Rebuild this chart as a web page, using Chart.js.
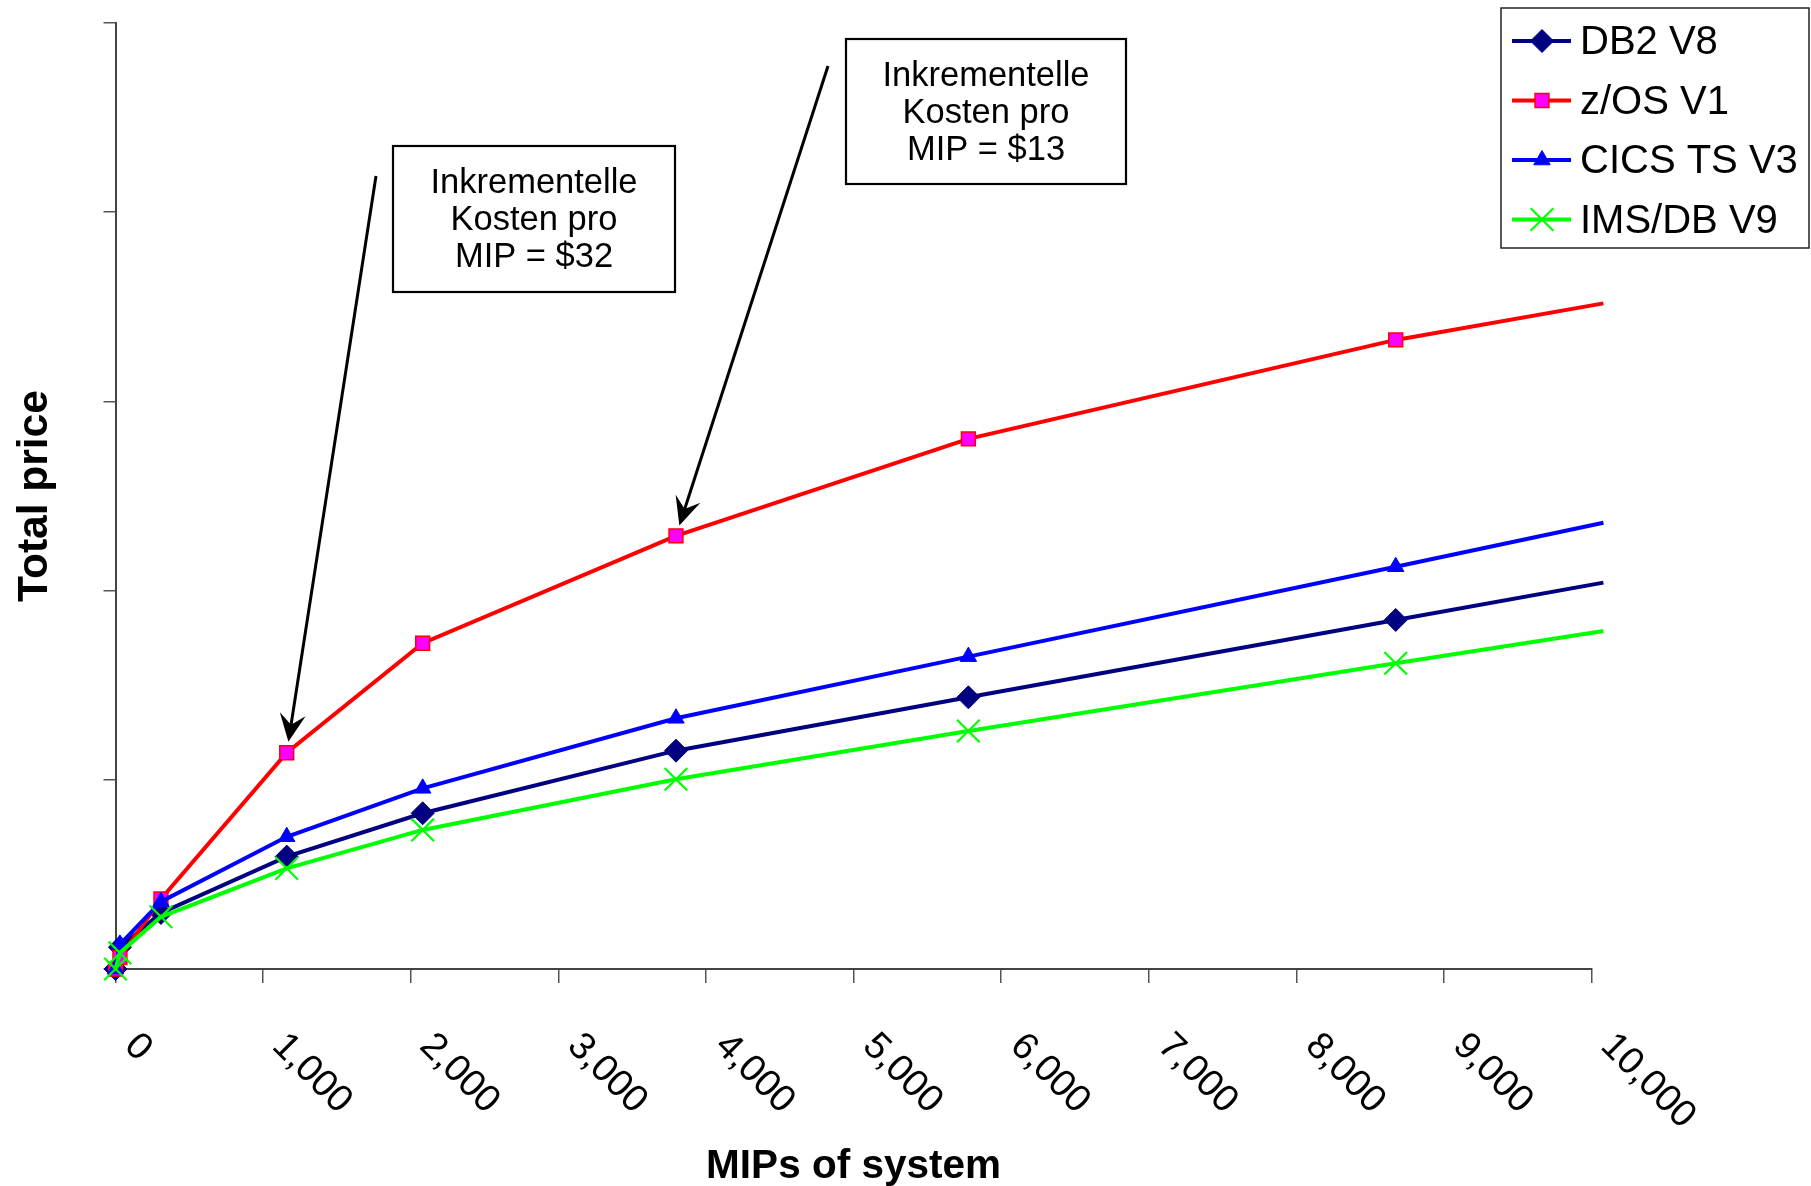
<!DOCTYPE html>
<html>
<head>
<meta charset="utf-8">
<title>Total price vs MIPs</title>
<script src="https://cdn.jsdelivr.net/npm/chart.js@4.4.1/dist/chart.umd.min.js"></script>
<style>
  body { margin: 0; background: #fff; }
  #wrap { width: 1811px; height: 1186px; }
</style>
</head>
<body>
<div id="wrap"><canvas id="myChart" width="1811" height="1186"></canvas></div>
<script>
const mips = [0, 30, 308, 1160, 2081, 3797, 5778, 8673, 10080]

const db2 = [0, 115, 296, 594, 823, 1154, 1436, 1845, 2042]
const zos = [0, 60, 370, 1143, 1722, 2289, 2802, 3325, 3518]
const cics = [0, 130, 356, 699, 955, 1325, 1651, 2126, 2359]
const ims = [0, 85, 276, 532, 735, 1003, 1258, 1616, 1786]

const seriesNames = ["DB2 V8", "z/OS V1", "CICS TS V3", "IMS/DB V9"]

const mipTicks = [0, 1000, 2000, 3000, 4000, 5000, 6000, 7000, 8000, 9000, 10000]
const priceTicks = [0, 1000, 2000, 3000, 4000, 5000]

const noteLow = ["Inkrementelle", "Kosten pro", "MIP = $32"]
const noteHigh = ["Inkrementelle", "Kosten pro", "MIP = $13"]

const FONT = '"Liberation Sans", Arial, Helvetica, sans-serif'

// last point sits just past the axis end, no marker there
const radii = (r) => mips.map((m, i) => (i === mips.length - 1 ? 0 : r))
const pts = (vals) => mips.map((m, i) => ({ x: m, y: vals[i] }))

const data = {
  datasets: [
    {
      label: seriesNames[0],
      data: pts(db2),
      borderColor: "#000080",
      backgroundColor: "#000080",
      borderWidth: 4,
      pointStyle: "rectRot",
      pointRadius: radii(11.5),
      pointBackgroundColor: "#000080",
      pointBorderColor: "#000080",
      pointBorderWidth: 1,
      order: 4,
    },
    {
      label: seriesNames[1],
      data: pts(zos),
      borderColor: "#ff0000",
      backgroundColor: "#ff00ff",
      borderWidth: 4,
      pointStyle: "rect",
      pointRadius: radii(9.8),
      pointBackgroundColor: "#ff00ff",
      pointBorderColor: "#ff0000",
      pointBorderWidth: 1.5,
      order: 3,
    },
    {
      label: seriesNames[2],
      data: pts(cics),
      borderColor: "#0000ff",
      backgroundColor: "#0000ff",
      borderWidth: 4,
      pointStyle: "triangle",
      pointRadius: radii(9.5),
      pointBackgroundColor: "#0000ff",
      pointBorderColor: "#0000ff",
      pointBorderWidth: 1,
      order: 2,
    },
    {
      label: seriesNames[3],
      data: pts(ims),
      borderColor: "#00ff00",
      backgroundColor: "#00ff00",
      borderWidth: 4,
      pointStyle: "crossRot",
      pointRadius: radii(16),
      pointBackgroundColor: "#00ff00",
      pointBorderColor: "#00ff00",
      pointBorderWidth: 2.2,
      order: 1,
    },
  ],
}

function drawNote(ctx, lines, box, from, target) {
  // arrow first, then the box on top
  const dx = target.x - from.x, dy = target.y - from.y
  const len = Math.hypot(dx, dy)
  const ux = dx / len, uy = dy / len
  const tip = { x: target.x - ux * 11, y: target.y - uy * 11 }
  const headLen = 28, headW = 13
  const baseX = tip.x - ux * headLen, baseY = tip.y - uy * headLen
  ctx.save()
  ctx.strokeStyle = "#000"
  ctx.fillStyle = "#000"
  ctx.lineWidth = 3
  ctx.beginPath()
  ctx.moveTo(from.x, from.y)
  ctx.lineTo(tip.x - ux * 10, tip.y - uy * 10)
  ctx.stroke()
  ctx.beginPath()
  ctx.moveTo(tip.x, tip.y)
  ctx.lineTo(baseX - uy * headW, baseY + ux * headW)
  ctx.lineTo(tip.x - ux * headLen * 0.62, tip.y - uy * headLen * 0.62)
  ctx.lineTo(baseX + uy * headW, baseY - ux * headW)
  ctx.closePath()
  ctx.fill()

  ctx.fillStyle = "#fff"
  ctx.fillRect(box.x, box.y, box.w, box.h)
  ctx.lineWidth = 2.2
  ctx.strokeRect(box.x, box.y, box.w, box.h)
  ctx.fillStyle = "#000"
  ctx.font = "34.5px " + FONT
  ctx.textAlign = "center"
  ctx.textBaseline = "middle"
  lines.forEach((t, i) => {
    ctx.fillText(t, box.x + box.w / 2, box.y + 37 + i * 37)
  })
  ctx.restore()
}

const overlay = {
  id: "overlay",
  afterDraw(chart) {
    const ctx = chart.ctx
    const xs = chart.scales.x
    const ys = chart.scales.y

    // x tick labels, turned 45 degrees clockwise
    ctx.save()
    ctx.fillStyle = "#000"
    ctx.font = "38px " + FONT
    ctx.textAlign = "left"
    ctx.textBaseline = "middle"
    xs.ticks.forEach((t) => {
      const px = xs.getPixelForValue(t.value)
      ctx.save()
      ctx.translate(px + 15, chart.chartArea.bottom + 71)
      ctx.rotate(Math.PI / 4)
      ctx.fillText(t.value.toLocaleString("en-US"), 0, 0)
      ctx.restore()
    })
    ctx.restore()

    // callouts pointing at the z/OS points
    const p1 = { x: xs.getPixelForValue(mips[3]), y: ys.getPixelForValue(zos[3]) }
    const p2 = { x: xs.getPixelForValue(mips[5]), y: ys.getPixelForValue(zos[5]) }
    drawNote(ctx, noteLow, { x: 393, y: 146, w: 282, h: 146 }, { x: 376, y: 176 }, p1)
    drawNote(ctx, noteHigh, { x: 846, y: 39, w: 280, h: 145 }, { x: 828, y: 66 }, p2)

    // legend box
    ctx.save()
    ctx.fillStyle = "#fff"
    ctx.fillRect(1501, 8, 308, 240)
    ctx.strokeStyle = "#222"
    ctx.lineWidth = 1.5
    ctx.strokeRect(1501, 8, 308, 240)
    const drawPoint = Chart.helpers && Chart.helpers.drawPoint
    chart.data.datasets.forEach((ds, i) => {
      const y = 41 + i * 59.5
      ctx.strokeStyle = ds.borderColor
      ctx.lineWidth = 4
      ctx.beginPath()
      ctx.moveTo(1512, y)
      ctx.lineTo(1571, y)
      ctx.stroke()
      if (drawPoint) {
        ctx.fillStyle = ds.pointBackgroundColor
        ctx.strokeStyle = ds.pointBorderColor
        ctx.lineWidth = ds.pointBorderWidth
        drawPoint(ctx, { pointStyle: ds.pointStyle, radius: ds.pointRadius[0], rotation: 0, borderWidth: ds.pointBorderWidth }, 1542, y)
      }
      ctx.fillStyle = "#000"
      ctx.font = "40px " + FONT
      ctx.textAlign = "left"
      ctx.textBaseline = "middle"
      ctx.fillText(ds.label, 1580, y + 2)
    })
    ctx.restore()
  },
}

const config = {
  type: "scatter",
  data: data,
  options: {
    responsive: false,
    animation: false,
    showLine: true,
    clip: false,
    layout: { padding: { top: 23, right: 219.4, left: 0, bottom: 0 } },
    elements: {
      line: { borderWidth: 4, tension: 0 },
    },
    plugins: {
      legend: { display: false },
      tooltip: { enabled: false },
    },
    scales: {
      x: {
        type: "linear",
        min: 0,
        max: 10000,
        afterBuildTicks: (scale) => {
          scale.ticks = mipTicks.map((v) => ({ value: v }))
        },
        ticks: { display: false },
        grid: { display: true, drawOnChartArea: false, drawTicks: true, tickLength: 14, color: "#555", lineWidth: 1.5 },
        border: { display: true, color: "#444", width: 2 },
        title: {
          display: true,
          text: "MIPs of system",
          color: "#000",
          font: { family: FONT, size: 40.5, weight: "bold", lineHeight: 1.2 },
          padding: { top: 159.4, bottom: -5 },
        },
      },
      y: {
        type: "linear",
        min: 0,
        max: 5000,
        afterBuildTicks: (scale) => {
          scale.ticks = priceTicks.map((v) => ({ value: v }))
        },
        ticks: { display: false },
        grid: { display: true, drawOnChartArea: false, drawTicks: true, tickLength: 12, color: "#555", lineWidth: 1.5 },
        border: { display: true, color: "#444", width: 2 },
        title: {
          display: true,
          text: "Total price",
          color: "#000",
          font: { family: FONT, size: 42.5, weight: "bold", lineHeight: 1.2 },
          padding: { top: 10, bottom: 42.5 },
        },
      },
    },
  },
  plugins: [overlay],
}

const myChart = new Chart(document.getElementById("myChart"), config)
</script>
</body>
</html>
